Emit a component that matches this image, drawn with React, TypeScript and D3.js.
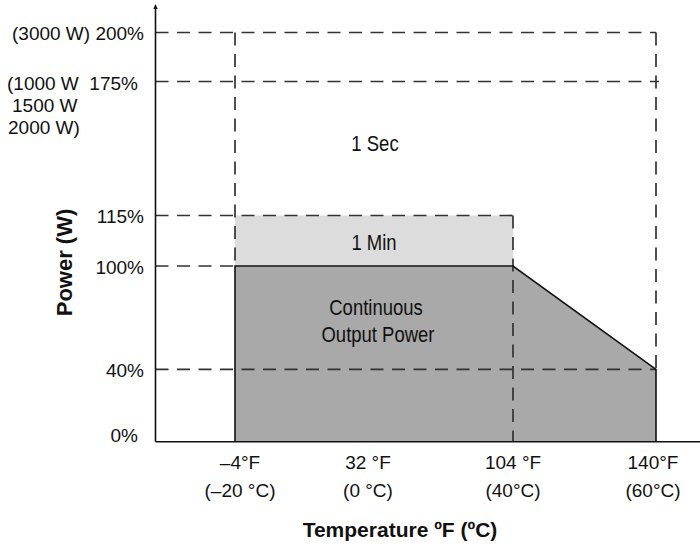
// @ts-nocheck
import { useRef, useEffect } from "react";
import * as d3 from "d3";

// y: percent of rated power (schematic, non-linear axis)
const yTicks = [0, 40, 100, 115, 175, 200];
const yTickLabels = ["0%", "40%", "100%", "115%", "175%", "200%"];
// x: temperature in °F
const xTicks = [-4, 32, 104, 140];
const xTickLabelsF = ["\u20134°F", "32 °F", "104 °F", "140°F"];
const xTickLabelsC = ["(\u201320 °C)", "(0 °C)", "(40°C)", "(60°C)"];

// continuous output power curve (derating)
const continuousTemps = [-4, 104, 140];
const continuousPower = [100, 100, 40];
// 1 minute overload
const oneMinTemps = [-4, 104];
const oneMinPower = 115;
// 1 second surge
const oneSecTemps = [-4, 140];
const oneSecPower = [175, 200];

const wattNotes200 = "(3000 W)";
const wattNotes175 = ["(1000 W", "1500 W", "2000 W)"];

const FONT = "'Liberation Sans', Arial, Helvetica, sans-serif";

const PowerDerating = ({ width = 700, height = 547 }) => {
  const svgRef = useRef();

  useEffect(() => {
    const svg = d3.select(svgRef.current);
    svg.selectAll("*").remove();
    svg.attr("width", width).attr("height", height);

    const left = 155.5;
    const right = 700;

    // piecewise scales because the drawing is schematic
    const y = d3
      .scaleLinear()
      .domain(yTicks)
      .range([441.7, 369.3, 266, 215.5, 81.5, 32.5]);
    const x = d3.scaleLinear().domain(xTicks).range([235, 368, 513, 656]);

    const dash = "13 8.5";
    const dashColor = "#333";

    // continuous area
    const contPts = continuousTemps.map((t, i) => [x(t), y(continuousPower[i])]);
    const areaPts = [[x(continuousTemps[0]), y(0)], ...contPts, [x(continuousTemps[2]), y(0)]];
    // 1 min band
    svg
      .append("rect")
      .attr("x", x(oneMinTemps[0]))
      .attr("y", y(oneMinPower))
      .attr("width", x(oneMinTemps[1]) - x(oneMinTemps[0]))
      .attr("height", y(100) - y(oneMinPower))
      .attr("fill", "#dcdcdc");

    svg
      .append("path")
      .attr("d", d3.line()(areaPts) + "Z")
      .attr("fill", "#a8a9a8")
      .attr("stroke", "none");

    const hLine = (v, x1, x2) =>
      svg
        .append("line")
        .attr("x1", x1)
        .attr("x2", x2)
        .attr("y1", y(v))
        .attr("y2", y(v))
        .attr("stroke", dashColor)
        .attr("stroke-width", 1.7)
        .attr("stroke-dasharray", dash);
    const vLine = (t, v1, v2) =>
      svg
        .append("line")
        .attr("x1", x(t))
        .attr("x2", x(t))
        .attr("y1", y(v1))
        .attr("y2", y(v2))
        .attr("stroke", dashColor)
        .attr("stroke-width", 1.7)
        .attr("stroke-dasharray", dash);

    // dashed guides
    hLine(oneSecPower[1], left, x(oneSecTemps[1]));
    hLine(oneSecPower[0], left, x(oneSecTemps[1]) + 3);
    hLine(oneMinPower, left, x(oneMinTemps[1]));
    hLine(100, left, x(-4));
    hLine(40, left, x(140));
    vLine(oneSecTemps[0], oneSecPower[1], 100);
    vLine(oneSecTemps[1], oneSecPower[1], 40);
    vLine(oneMinTemps[1], oneMinPower, 0);

    // solid outline of continuous region
    svg
      .append("path")
      .attr("d", d3.line()([[x(-4), y(0)], ...contPts, [x(140), y(0)]]))
      .attr("fill", "none")
      .attr("stroke", "#111")
      .attr("stroke-width", 1.6);

    // axes
    svg
      .append("line")
      .attr("x1", left)
      .attr("x2", right)
      .attr("y1", y(0))
      .attr("y2", y(0))
      .attr("stroke", "#111")
      .attr("stroke-width", 1.6);
    svg
      .append("line")
      .attr("x1", left)
      .attr("x2", left)
      .attr("y1", y(0))
      .attr("y2", 7)
      .attr("stroke", "#111")
      .attr("stroke-width", 1.6);
    svg
      .append("path")
      .attr("d", `M${left - 2.2},9 L${left},4 L${left + 2.2},9 Z`)
      .attr("fill", "#111");

    // y tick labels
    yTicks.forEach((v, i) => {
      svg
        .append("text")
        .attr("x", v === 0 ? 138 : 144)
        .attr("y", v === 0 ? y(v) : y(v) + 7.5)
        .attr("text-anchor", "end")
        .attr("font-family", FONT)
        .attr("font-size", 19)
        .attr("fill", "#111")
        .text(v === 200 ? `${wattNotes200} ${yTickLabels[i]}` : v === 175 ? "" : yTickLabels[i]);
    });
    // 175% with watt notes
    svg
      .append("text")
      .attr("x", 7)
      .attr("y", y(175) + 8)
      .attr("font-family", FONT)
      .attr("font-size", 19)
      .attr("fill", "#111")
      .attr("xml:space", "preserve")
      .text(`${wattNotes175[0]}  ${yTickLabels[4]}`);
    svg
      .append("text")
      .attr("x", 12)
      .attr("y", y(175) + 30.5)
      .attr("font-family", FONT)
      .attr("font-size", 19)
      .attr("fill", "#111")
      .text(wattNotes175[1]);
    svg
      .append("text")
      .attr("x", 8)
      .attr("y", y(175) + 52.5)
      .attr("font-family", FONT)
      .attr("font-size", 19)
      .attr("fill", "#111")
      .text(wattNotes175[2]);

    // x tick labels
    xTicks.forEach((t, i) => {
      const cx = x(t) + (i === 0 ? 5 : i === 3 ? -3 : 0);
      svg
        .append("text")
        .attr("x", cx)
        .attr("y", 469)
        .attr("text-anchor", "middle")
        .attr("font-family", FONT)
        .attr("font-size", 19)
        .attr("fill", "#111")
        .text(xTickLabelsF[i]);
      svg
        .append("text")
        .attr("x", cx)
        .attr("y", 497)
        .attr("text-anchor", "middle")
        .attr("font-family", FONT)
        .attr("font-size", 19)
        .attr("fill", "#111")
        .text(xTickLabelsC[i]);
    });

    // region labels (condensed look)
    const regionLabel = (txt, cx, cy) =>
      svg
        .append("text")
        .attr("transform", `translate(${cx},${cy}) scale(0.86,1)`)
        .attr("text-anchor", "middle")
        .attr("font-family", FONT)
        .attr("font-size", 21.5)
        .attr("fill", "#111")
        .text(txt);
    const mid = (x(-4) + x(104)) / 2;
    regionLabel("1 Sec", mid + 1, 151);
    regionLabel("1 Min", mid, 250);
    regionLabel("Continuous", mid + 2, 315);
    regionLabel("Output Power", mid + 4, 342);

    // axis titles
    svg
      .append("text")
      .attr("x", 400)
      .attr("y", 537)
      .attr("text-anchor", "middle")
      .attr("font-family", FONT)
      .attr("font-weight", "bold")
      .attr("font-size", 21)
      .attr("fill", "#111")
      .text("Temperature ºF (ºC)");
    svg
      .append("text")
      .attr("transform", "translate(72,262.5) rotate(-90)")
      .attr("text-anchor", "middle")
      .attr("font-family", FONT)
      .attr("font-weight", "bold")
      .attr("font-size", 22)
      .attr("fill", "#111")
      .text("Power (W)");
  }, [width, height]);

  return (
    <svg
      ref={svgRef}
      style={{ position: "absolute", left: 0, top: 0, display: "block", background: "#fff" }}
    ></svg>
  );
};

export default function App() {
  return <PowerDerating />;
}
